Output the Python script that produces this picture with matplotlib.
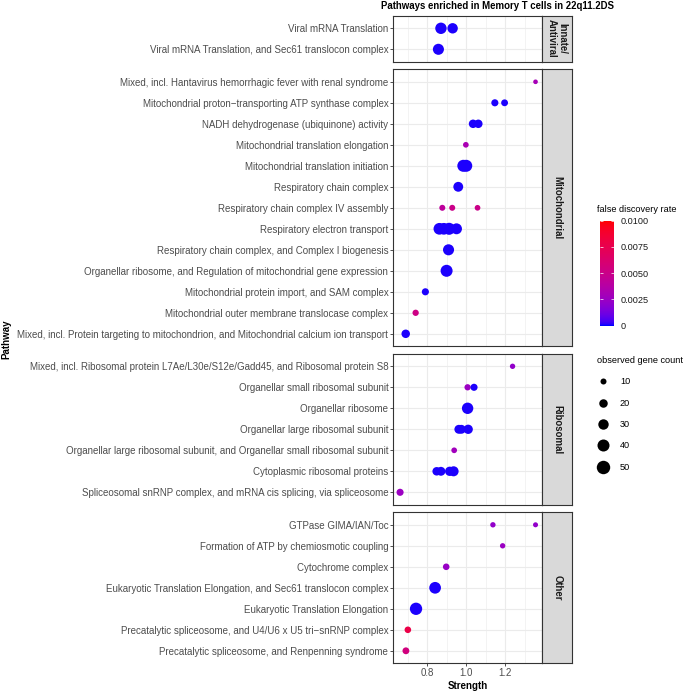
import numpy as np
import matplotlib
matplotlib.use("Agg")
import matplotlib.pyplot as plt
from matplotlib.colors import ListedColormap, Normalize
from matplotlib.lines import Line2D

plt.rcParams['font.family'] = ['Liberation Sans', 'DejaVu Sans']

# facets, top to bottom
groups = ["Innate/\nAntiviral", "Mitochondrial", "Ribosomal", "Other"]

# pathways (rows) listed top to bottom, with the facet each belongs to
pathways = [
    "Viral mRNA Translation",
    "Viral mRNA Translation, and Sec61 translocon complex",
    "Mixed, incl. Hantavirus hemorrhagic fever with renal syndrome",
    "Mitochondrial proton\u2212transporting ATP synthase complex",
    "NADH dehydrogenase (ubiquinone) activity",
    "Mitochondrial translation elongation",
    "Mitochondrial translation initiation",
    "Respiratory chain complex",
    "Respiratory chain complex IV assembly",
    "Respiratory electron transport",
    "Respiratory chain complex, and Complex I biogenesis",
    "Organellar ribosome, and Regulation of mitochondrial gene expression",
    "Mitochondrial protein import, and SAM complex",
    "Mitochondrial outer membrane translocase complex",
    "Mixed, incl. Protein targeting to mitochondrion, and Mitochondrial calcium ion transport",
    "Mixed, incl. Ribosomal protein L7Ae/L30e/S12e/Gadd45, and Ribosomal protein S8",
    "Organellar small ribosomal subunit",
    "Organellar ribosome",
    "Organellar large ribosomal subunit",
    "Organellar large ribosomal subunit, and Organellar small ribosomal subunit",
    "Cytoplasmic ribosomal proteins",
    "Spliceosomal snRNP complex, and mRNA cis splicing, via spliceosome",
    "GTPase GIMA/IAN/Toc",
    "Formation of ATP by chemiosmotic coupling",
    "Cytochrome complex",
    "Eukaryotic Translation Elongation, and Sec61 translocon complex",
    "Eukaryotic Translation Elongation",
    "Precatalytic spliceosome, and U4/U6 x U5 tri\u2212snRNP complex",
    "Precatalytic spliceosome, and Renpenning syndrome",
]
pathway_group = [0] * 2 + [1] * 13 + [2] * 7 + [3] * 7

# one entry per point: row index into pathways, strength, fdr, gene count
point_row = [0, 0, 1,
             2, 3, 3, 4, 4, 5, 6, 6, 7, 8, 8, 8, 9, 9, 9, 9, 10, 11, 12, 13, 14,
             15, 16, 16, 17, 18, 18, 18, 19, 20, 20, 20, 20, 21,
             22, 22, 23, 24, 25, 26, 27, 28]
strength = [0.870, 0.930, 0.857,
            1.356, 1.147, 1.197, 1.035, 1.062, 0.998, 0.985, 1.000, 0.959,
            0.877, 0.928, 1.058, 0.862, 0.885, 0.912, 0.950, 0.909, 0.899,
            0.790, 0.740, 0.689,
            1.238, 1.007, 1.040, 1.007, 0.962, 0.975, 1.010, 0.938,
            0.848, 0.870, 0.915, 0.935, 0.660,
            1.137, 1.356, 1.187, 0.897, 0.840, 0.742, 0.700, 0.690]
fdr = [0.0001, 0.0001, 0.0001,
       0.0030, 0.0001, 0.0001, 0.0001, 0.0001, 0.0032, 0.0001, 0.0001, 0.0001,
       0.0042, 0.0050, 0.0050, 0.0001, 0.0001, 0.0001, 0.0001, 0.0001, 0.0001,
       0.0001, 0.0052, 0.0001,
       0.0022, 0.0025, 0.0001, 0.0001, 0.0001, 0.0001, 0.0001, 0.0028,
       0.0001, 0.0001, 0.0001, 0.0001, 0.0025,
       0.0022, 0.0022, 0.0025, 0.0024, 0.0001, 0.0001, 0.0078, 0.0055]
gene_count = [36, 30, 34,
              6, 14, 13, 20, 20, 9, 40, 40, 27,
              10, 10, 9, 38, 38, 40, 33, 34, 40,
              14, 11, 20,
              8, 11, 14, 36, 22, 22, 24, 9,
              20, 22, 24, 28, 14,
              8, 7, 8, 12, 38, 42, 12, 13]

fdr_ticks = [0, 0.0025, 0.005, 0.0075, 0.01]
fdr_labels = ["0", "0.0025", "0.0050", "0.0075", "0.0100"]
size_breaks = [10, 20, 30, 40, 50]


# blue -> red gradient interpolated in Lab space
M = np.array([[0.4124, 0.3576, 0.1805], [0.2126, 0.7152, 0.0722], [0.0193, 0.1192, 0.9505]])
white = np.array([0.95047, 1.0, 1.08883])


def to_lab(rgb):
    c = np.asarray(rgb, float)
    c = np.where(c > 0.04045, ((c + 0.055) / 1.055) ** 2.4, c / 12.92)
    xyz = M @ c / white
    f = np.where(xyz > 0.008856, np.cbrt(xyz), 7.787 * xyz + 16 / 116)
    return np.array([116 * f[1] - 16, 500 * (f[0] - f[1]), 200 * (f[1] - f[2])])


def from_lab(lab):
    fy = (lab[0] + 16) / 116
    f = np.array([fy + lab[1] / 500, fy, fy - lab[2] / 200])
    xyz = np.where(f ** 3 > 0.008856, f ** 3, (f - 16 / 116) / 7.787) * white
    c = np.clip(np.linalg.inv(M) @ xyz, 0, 1)
    c = np.where(c > 0.0031308, 1.055 * c ** (1 / 2.4) - 0.055, 12.92 * c)
    return np.clip(c, 0, 1)


lab_lo, lab_hi = to_lab([0, 0, 1]), to_lab([1, 0, 0])
cmap = ListedColormap([from_lab(lab_lo + t * (lab_hi - lab_lo)) for t in np.linspace(0, 1, 256)])
norm = Normalize(0, 0.01)

W, H = 685, 692
fig = plt.figure(figsize=(W / 100, H / 100), dpi=100)


def box(x0, y0, x1, y1):
    return [x0 / W, 1 - y1 / H, (x1 - x0) / W, (y1 - y0) / H]


def size(c):
    return 1.87 * np.asarray(c, float)


strength = np.array(strength)
point_row = np.array(point_row)
lo, hi = strength.min(), strength.max()
xlim = (lo - 0.05 * (hi - lo), hi + 0.05 * (hi - lo))

left, right, strip_w = 393.3, 542.3, 30
unit, gap = 21.0, 7.3
top = 15.7
txt = 7.0
leg_txt = 6.6

for g, name in enumerate(groups):
    rows = [i for i, pg in enumerate(pathway_group) if pg == g]
    n = len(rows)
    h = (n + 0.2) * unit
    ax = fig.add_axes(box(left, top, right, top + h))
    mask = np.isin(point_row, rows)
    ypos = point_row[mask] - rows[0]
    ax.scatter(strength[mask], ypos, s=size(np.array(gene_count)[mask]),
               c=np.array(fdr)[mask], cmap=cmap, norm=norm, linewidths=0, zorder=3)
    ax.set_xlim(xlim)
    ax.set_ylim(n - 0.4, -0.6)
    ax.set_yticks(range(n))
    ax.set_yticklabels([pathways[r] for r in rows])
    ax.set_xticks([0.8, 1.0, 1.2])
    ax.set_xticklabels(["0.8", "1.0", "1.2"])
    ax.set_xticks([0.7, 0.9, 1.1, 1.3], minor=True)
    ax.grid(which='major', color='#EBEBEB', lw=0.8)
    ax.grid(which='minor', axis='x', color='#EBEBEB', lw=0.4)
    ax.set_axisbelow(True)
    ax.tick_params(which='major', length=2, width=0.6, color='#333333',
                   labelsize=txt, labelcolor='#4D4D4D', pad=1.6)
    ax.tick_params(which='minor', length=0)
    if g < len(groups) - 1:
        ax.tick_params(bottom=False, labelbottom=False)
    for sp in ax.spines.values():
        sp.set_color('#333333')
        sp.set_linewidth(0.8)

    sx = fig.add_axes(box(right, top, right + strip_w, top + h))
    sx.set_facecolor('#D9D9D9')
    sx.set_xticks([])
    sx.set_yticks([])
    for sp in sx.spines.values():
        sp.set_color('#333333')
        sp.set_linewidth(0.8)
    sx.text(0.5, 0.5, name, rotation=-90, ha='center', va='center', fontsize=6.9,
            fontweight='bold', color='#1A1A1A', transform=sx.transAxes, linespacing=1.05,
            multialignment='center')
    top += h + gap

bottom = top - gap
fig.text((left + right) / 2 / W, 1 - 686 / H, "Strength", ha='center', va='center',
         fontsize=7, fontweight='bold')
fig.text(6.5 / W, 1 - (15.7 + bottom) / 2 / H, "Pathway", rotation=90, ha='center',
         va='center', fontsize=7, fontweight='bold')
fig.text(380.7 / W, 1 - 6 / H, "Pathways enriched in Memory T cells in 22q11.2DS",
         ha='left', va='center', fontsize=6.9, fontweight='bold')

# colour bar
cax = fig.add_axes(box(600, 220.7, 614, 325.7))
sm = plt.cm.ScalarMappable(norm=norm, cmap=cmap)
cb = fig.colorbar(sm, cax=cax, ticks=fdr_ticks)
cb.ax.set_yticklabels(fdr_labels)
cb.outline.set_visible(False)
cax.tick_params(direction='in', length=2.5, width=0.5, color='white', left=True,
                right=True, labelsize=leg_txt, labelcolor='#1A1A1A', pad=4.5)
fig.text(597 / W, 1 - 210 / H, "false discovery rate", ha='left', va='center', fontsize=leg_txt)

# size legend
handles = [Line2D([], [], ls='', marker='o', color='black', markeredgewidth=0,
                  markersize=np.sqrt(size(b))) for b in size_breaks]
leg = fig.legend(handles, [str(b) for b in size_breaks], loc='upper left',
                 bbox_to_anchor=(597 / W, 1 - 356 / H), frameon=False, fontsize=leg_txt,
                 title="observed gene count", title_fontsize=leg_txt, alignment='left',
                 labelspacing=1.35, handletextpad=1.3, borderpad=0, borderaxespad=0,
                 handlelength=1.2)

fig.savefig("out.png", dpi=100)
